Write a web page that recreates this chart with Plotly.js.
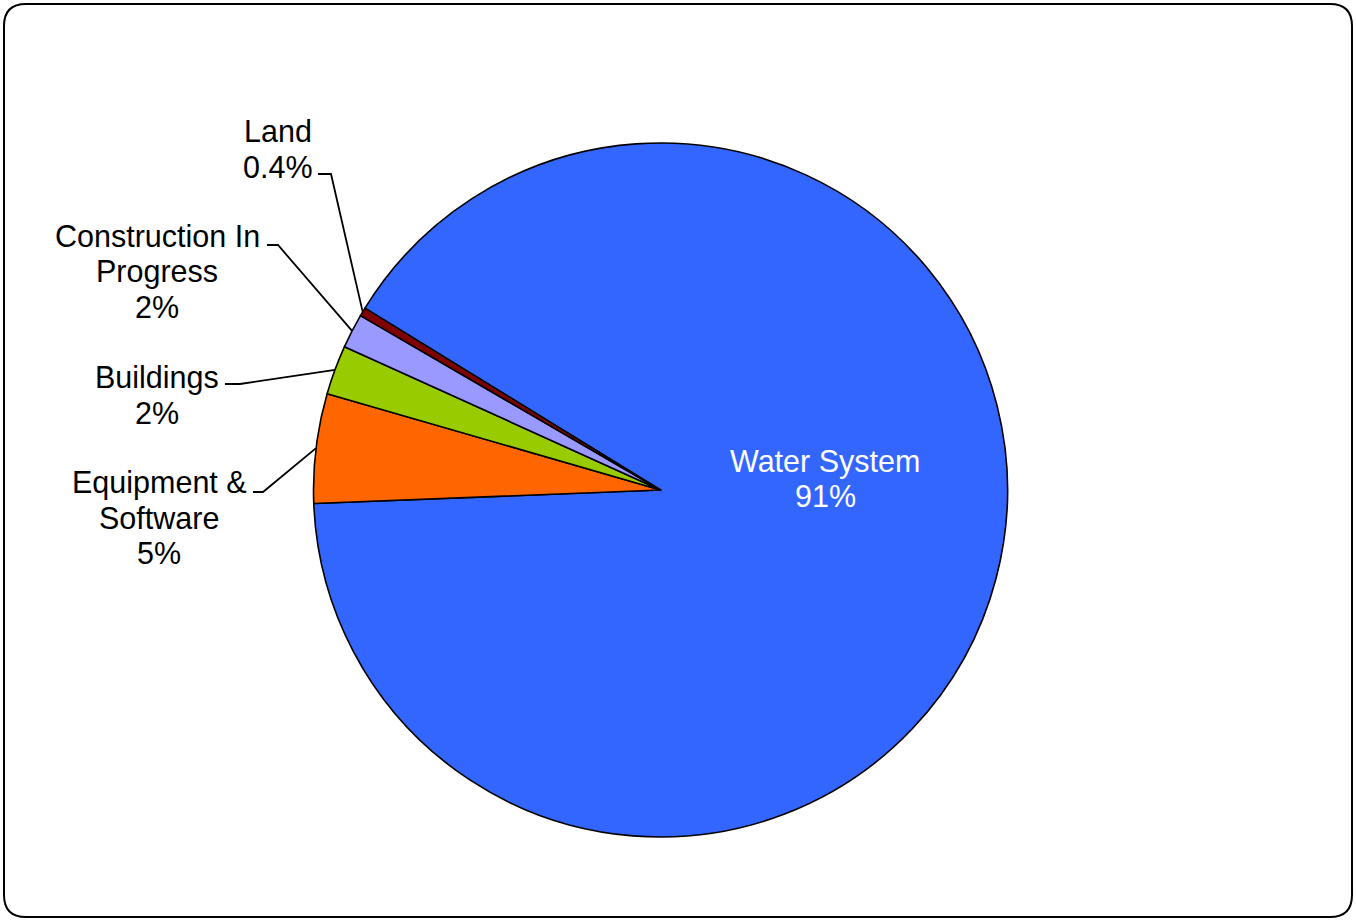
<!DOCTYPE html>
<html>
<head>
<meta charset="utf-8">
<script src="https://cdn.plot.ly/plotly-3.0.1.min.js"></script>
<style>
  html, body { margin: 0; padding: 0; background: #ffffff; }
  #chart { width: 1356px; height: 920px; }
</style>
</head>
<body>
<div id="chart"></div>
<script>
// Capital assets by category (share of total)
const categories = ['Water System', 'Equipment & Software', 'Buildings', 'Construction In Progress', 'Land'];
const labelLines = [['Water System'], ['Equipment &', 'Software'], ['Buildings'], ['Construction In', 'Progress'], ['Land']];
const values = [90.6, 5.1, 2.3, 1.6, 0.4];
const colors = ['#3366FF', '#FF6600', '#99CC00', '#9999FF', '#800000'];

// Page and pie geometry (pixels)
const W = 1356, H = 920;
const cx = 660.5, cy = 490, r = 347;
const rotation = -58.4;

const px = x => x / W;
const py = y => 1 - y / H;

// Label placement: centre x, first line centre y, leader start and elbow
const labelSpots = [
  { x: 825, y: 461, color: '#ffffff' },
  { x: 159, y: 482, lead: [253, 492, 263] },
  { x: 157, y: 377, lead: [225, 384, 240] },
  { x: 157, y: 236, lead: [267, 245, 278] },
  { x: 278, y: 131, lead: [318, 174, 331] }
];
const lineGap = 35.5;
const fontFamily = 'Liberation Sans, Arial, sans-serif';
const fontSize = 30.5;

const total = values.reduce((a, b) => a + b, 0);
function pctText(v) {
  const p = v / total * 100;
  return p < 1 ? p.toFixed(1) + '%' : Math.round(p + 1e-9) + '%';
}

const annotations = [];
const shapes = [];
let cum = 0;
values.forEach((v, i) => {
  const mid = (rotation + (cum + v / 2) / total * 360) * Math.PI / 180;
  cum += v;
  const spot = labelSpots[i];
  const lines = labelLines[i].concat([pctText(v)]);
  lines.forEach((t, k) => {
    annotations.push({
      x: px(spot.x), y: py(spot.y + k * lineGap), xref: 'paper', yref: 'paper',
      text: t, showarrow: false, xanchor: 'center', yanchor: 'middle',
      font: { family: fontFamily, size: fontSize, color: spot.color || '#000000' }
    });
  });
  if (spot.lead) {
    const ex = cx + r * Math.sin(mid);
    const ey = cy - r * Math.cos(mid);
    const [sx, sy, kx] = spot.lead;
    shapes.push({
      type: 'path', xref: 'paper', yref: 'paper',
      path: `M ${px(sx)},${py(sy)} L ${px(kx)},${py(sy)} L ${px(ex)},${py(ey)}`,
      line: { color: '#000000', width: 1.8 }
    });
  }
});

// Rounded frame around the chart area
(function () {
  const x0 = 4, y0 = 4, x1 = 1352, y1 = 917, c = 22;
  const p = [
    `M ${px(x0 + c)},${py(y0)}`,
    `L ${px(x1 - c)},${py(y0)}`,
    `Q ${px(x1)},${py(y0)} ${px(x1)},${py(y0 + c)}`,
    `L ${px(x1)},${py(y1 - c)}`,
    `Q ${px(x1)},${py(y1)} ${px(x1 - c)},${py(y1)}`,
    `L ${px(x0 + c)},${py(y1)}`,
    `Q ${px(x0)},${py(y1)} ${px(x0)},${py(y1 - c)}`,
    `L ${px(x0)},${py(y0 + c)}`,
    `Q ${px(x0)},${py(y0)} ${px(x0 + c)},${py(y0)}`,
    'Z'
  ].join(' ');
  shapes.push({ type: 'path', xref: 'paper', yref: 'paper', path: p,
    line: { color: '#000000', width: 2 }, fillcolor: 'rgba(0,0,0,0)' });
})();

const trace = {
  type: 'pie',
  labels: categories,
  values: values,
  sort: false,
  direction: 'clockwise',
  rotation: rotation,
  marker: { colors: colors, line: { color: '#000000', width: 1.6 } },
  textinfo: 'none',
  hoverinfo: 'label+percent',
  showlegend: false,
  domain: { x: [px(cx - r), px(cx + r)], y: [py(cy + r), py(cy - r)] }
};

const layout = {
  width: W, height: H,
  margin: { l: 0, r: 0, t: 0, b: 0 },
  paper_bgcolor: '#ffffff',
  showlegend: false,
  annotations: annotations,
  shapes: shapes
};

Plotly.newPlot('chart', [trace], layout, { displayModeBar: false, staticPlot: true });
</script>
</body>
</html>
